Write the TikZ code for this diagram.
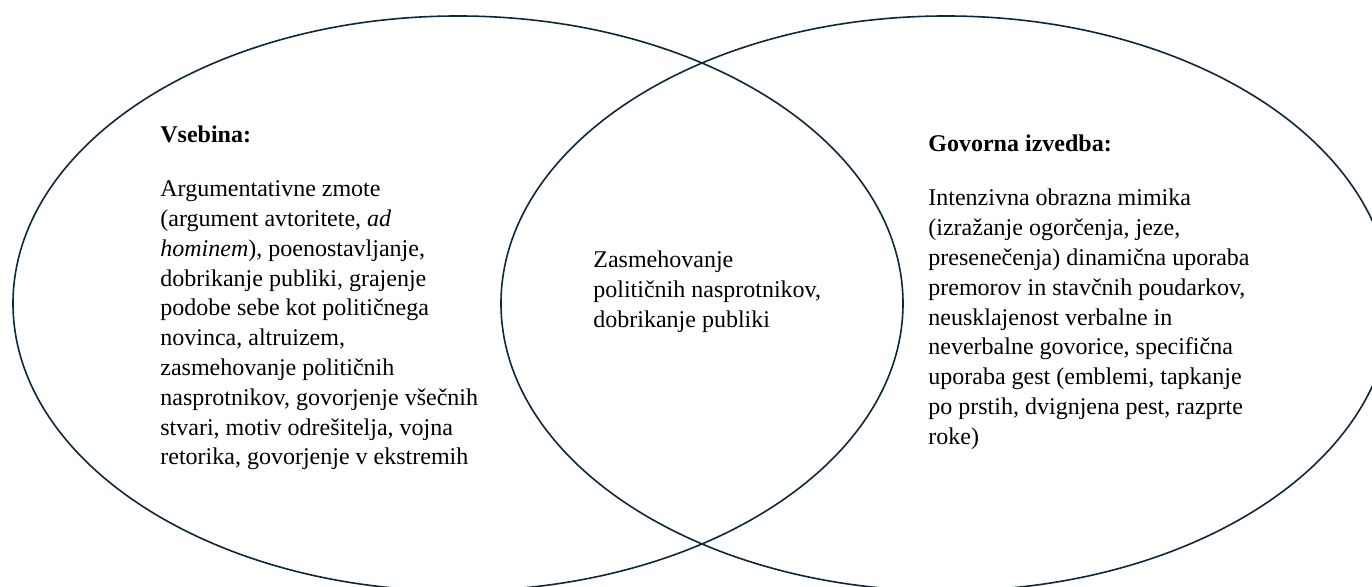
\documentclass[tikz,border=0pt]{standalone}
\usepackage{fontspec}
\setmainfont{Liberation Serif}
\definecolor{vennline}{RGB}{12,40,58}
\def\canvas{(0,0) rectangle (1372,587)}
\def\leftset{(458,283.5) ellipse (222.5pt and 143.75pt)}
\def\rightset{(946,283.5) ellipse (222.5pt and 143.75pt)}
\begin{document}
\begin{tikzpicture}[x=0.5pt,y=0.5pt,txt/.style={inner sep=0pt,align=left,anchor=base west,font=\fontsize{12pt}{14.9pt}\selectfont}]
\clip\canvas;
\fill[white]\canvas;
\draw[vennline,line width=0.8pt] \leftset;
\draw[vennline,line width=0.8pt] \rightset;
% besedila (sidro = osnovnica zadnje vrstice)
\node[txt] (vsebina) at (160,444) {\textbf{Vsebina:}};
\node[txt] (vsebinatxt) at (160,122) {Argumentativne zmote\\
(argument avtoritete, \textit{ad}\\
\textit{hominem}), poenostavljanje,\\
dobrikanje publiki, grajenje\\
podobe sebe kot političnega\\
novinca, altruizem,\\
zasmehovanje političnih\\
nasprotnikov, govorjenje všečnih\\
stvari, motiv odrešitelja, vojna\\
retorika, govorjenje v ekstremih};
\node[txt] (skupno) at (593,259.4) {Zasmehovanje\\
političnih nasprotnikov,\\
dobrikanje publiki};
\node[txt] (izvedba) at (928,435) {\textbf{Govorna izvedba:}};
\node[txt] (izvedbatxt) at (928,142.6) {Intenzivna obrazna mimika\\
(izražanje ogorčenja, jeze,\\
presenečenja) dinamična uporaba\\
premorov in stavčnih poudarkov,\\
neusklajenost verbalne in\\
neverbalne govorice, specifična\\
uporaba gest (emblemi, tapkanje\\
po prstih, dvignjena pest, razprte\\
roke)};
\end{tikzpicture}
\end{document}
